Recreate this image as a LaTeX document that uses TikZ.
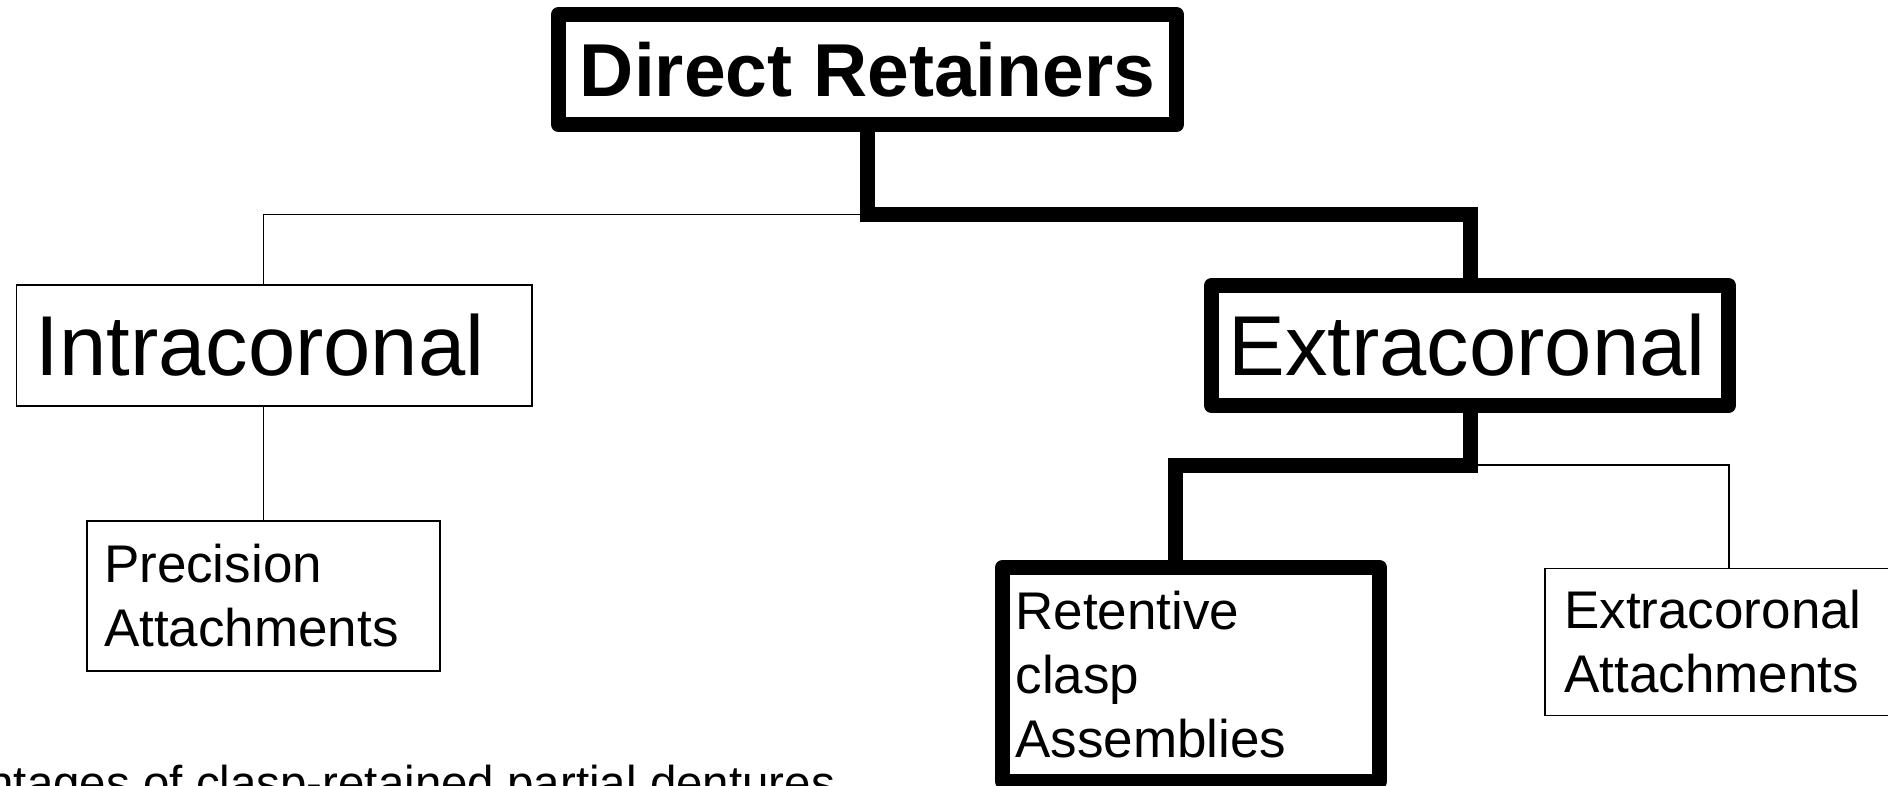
\documentclass[tikz,border=0pt]{standalone}
\usepackage{fontspec}
\setmainfont{Liberation Sans}

\begin{document}
\begin{tikzpicture}[x=1pt,y=-1pt,
  bx/.style={draw,line width=1.5pt,align=left,inner ysep=0pt},
  hv/.style={bx,line width=15pt,line join=round},
  big/.style={font=\fontsize{85}{102}\selectfont},
  sml/.style={font=\fontsize{53}{64}\selectfont},
  thn/.style={line width=1.5pt},
  thk/.style={line width=15pt}]
  \useasboundingbox (0,0) rectangle (1888,785);
  \clip (0,0) rectangle (1888,785);
  \node[hv,align=center,inner xsep=0pt,minimum width=618pt,minimum height=110pt,
    font=\fontsize{75}{90}\selectfont\bfseries] (dr) at (867.5,69.5) {Direct Retainers};
  \node[bx,big,inner xsep=19pt,text width=477.5pt,minimum height=121pt] (intra) at (274.25,345.5) {Intracoronal};
  \node[hv,big,inner xsep=17pt,text width=483pt,minimum height=120pt] (ext) at (1470,345.5) {Extracoronal};
  \node[bx,sml,inner xsep=17pt,text width=319pt,minimum height=150pt] (prec) at (263.5,596) {Precision\\Attachments};
  \node[hv,sml,inner xsep=13pt,text width=351pt,minimum height=214pt] (ret) at (1191,674.5) {Retentive\\clasp\\Assemblies};
  \node[bx,sml,inner xsep=19.5pt,text width=329.5pt,minimum height=147pt] (att) at (1729,642) {Extracoronal\\Attachments};
  \node[anchor=base west,inner sep=0pt,font=\fontsize{47.5}{57}\selectfont] (adv) at (-121,799)
    {Advantages of clasp-retained partial dentures};
  % junctions
  \coordinate (j1) at (867.5,214.5);
  \coordinate (j2) at (1470,465);
  \coordinate (rt) at (1175,560);
  \draw[thn] (j1) -| (prec.north |- intra.north);
  \draw[thn] (intra.south -| prec.north) -- (prec.north);
  \draw[thn] (j2) -| (att.north);
  \draw[thk] (dr.south) -- (j1) -| (ext.north);
  \draw[thk] (ext.south) -- (j2) -| (rt);
\end{tikzpicture}
\end{document}
